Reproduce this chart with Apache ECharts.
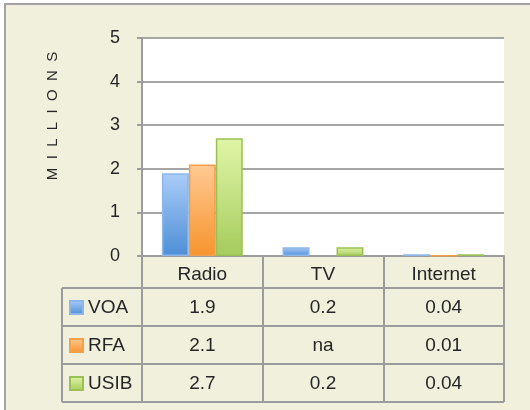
<!DOCTYPE html>
<html>
<head>
<meta charset="utf-8">
<script src="https://cdn.jsdelivr.net/npm/echarts@6/dist/echarts.min.js"></script>
<style>
  html, body { margin: 0; padding: 0; background: #fff; }
  #chart { width: 530px; height: 410px; }
</style>
</head>
<body>
<div id="chart"></div>
<script>
// 数据
const categories = ['Radio', 'TV', 'Internet'];
const seriesNames = ['VOA', 'RFA', 'USIB'];
const voa = [1.9, 0.2, 0.04];
const rfa = [2.1, null, 0.01];
const usib = [2.7, 0.2, 0.04];
const yTicks = [0, 1, 2, 3, 4, 5];

const font = '"Liberation Sans", Arial, sans-serif';
const textColor = '#262626';
const lineColor = '#9c9c9c';

// plot layout
const plotLeft = 142, plotTop = 38, plotRight = 504, plotBottom = 256;
const tableLeft = 62, rowH = 38, headerH = 32;

function grad(top, bottom) {
  return new echarts.graphic.LinearGradient(0, 0, 0, 1, [
    { offset: 0, color: top },
    { offset: 1, color: bottom }
  ]);
}
const styles = [
  { color: grad('#aacdf8', '#4e8ed7'), borderColor: '#8db7ea' },
  { color: grad('#ffca94', '#f7942d'), borderColor: '#f2a04c' },
  { color: grad('#e0f6a8', '#a6cb5d'), borderColor: '#9bc156' }
];
const seriesData = [voa, rfa, usib];

// table (data rows under the axis)
const graphics = [{
  type: 'rect', z: -10,
  shape: { x: 5, y: 4, width: 560, height: 440 },
  style: { fill: '#f1f0dc', stroke: '#a3a3a3', lineWidth: 2 }
}];
const firstRow = plotBottom + headerH;
for (let r = 0; r <= seriesNames.length; r++) {
  const y = firstRow + r * rowH;
  graphics.push({
    type: 'line',
    shape: { x1: tableLeft, y1: y, x2: plotRight, y2: y },
    style: { stroke: lineColor, lineWidth: 2 }
  });
}
graphics.push({
  type: 'line',
  shape: { x1: tableLeft, y1: firstRow, x2: tableLeft, y2: firstRow + rowH * seriesNames.length },
  style: { stroke: lineColor, lineWidth: 2 }
});
const colW = (plotRight - plotLeft) / categories.length;
seriesData.forEach(function (vals, r) {
  vals.forEach(function (v, c) {
    graphics.push({
      type: 'text',
      x: plotLeft + colW * (c + 0.5),
      y: firstRow + rowH * (r + 0.5) + 1,
      style: {
        text: v == null ? 'na' : String(v),
        font: '19px ' + font,
        fill: textColor,
        align: 'center',
        verticalAlign: 'middle'
      }
    });
  });
});

const chart = echarts.init(document.getElementById('chart'));
chart.setOption({
  backgroundColor: '#ffffff',
  animation: false,
  textStyle: { fontFamily: font },
  grid: {
    left: plotLeft, top: plotTop, right: 530 - plotRight, bottom: 410 - plotBottom,
    show: true, backgroundColor: '#ffffff', borderWidth: 0
  },
  legend: {
    data: seriesNames,
    icon: 'rect',
    orient: 'vertical',
    left: 69, top: firstRow + 10,
    padding: 0,
    itemWidth: 13, itemHeight: 13,
    itemGap: 19,
    itemTextGap: 3,
    textStyle: { fontSize: 19, color: textColor, fontFamily: font }
  },
  xAxis: {
    type: 'category',
    data: categories,
    axisLine: { lineStyle: { color: lineColor, width: 2 } },
    axisTick: { show: true, length: headerH + rowH * 3, lineStyle: { color: lineColor, width: 2 } },
    axisLabel: { fontSize: 19, color: textColor, margin: 9 }
  },
  yAxis: {
    type: 'value',
    min: yTicks[0], max: yTicks[yTicks.length - 1], interval: 1,
    name: 'M  I  L  L  I  O  N  S',
    nameLocation: 'middle',
    nameGap: 82,
    nameTextStyle: { fontSize: 15, color: textColor, padding: [0, 0, 0, 62] },
    axisLine: { show: true, lineStyle: { color: lineColor, width: 2 } },
    axisTick: { show: true, length: 5, lineStyle: { color: lineColor, width: 2 } },
    axisLabel: { fontSize: 18, color: textColor, margin: 22 },
    splitLine: { lineStyle: { color: '#a6a6a6', width: 2 } }
  },
  graphic: graphics,
  series: seriesNames.map(function (name, i) {
    return {
      name: name,
      type: 'bar',
      data: seriesData[i],
      barGap: '0%',
      barCategoryGap: '33%',
      itemStyle: {
        color: styles[i].color,
        borderColor: styles[i].borderColor,
        borderWidth: 1.5
      }
    };
  })
});
</script>
</body>
</html>
